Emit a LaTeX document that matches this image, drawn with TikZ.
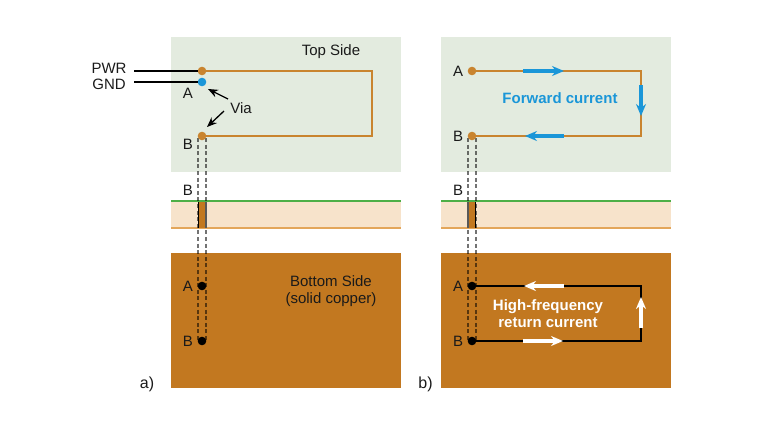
\documentclass[tikz,border=0pt]{standalone}
\usepackage{fontspec}
\setmainfont{Liberation Sans}
\usetikzlibrary{arrows.meta}
\definecolor{panelgreen}{HTML}{E3EBDF}
\definecolor{copper}{HTML}{C27820}
\definecolor{tracec}{HTML}{C9842F}
\definecolor{cream}{HTML}{F7E3CB}
\definecolor{linegreen}{HTML}{4DAF47}
\definecolor{lineorange}{HTML}{E3A65B}
\definecolor{curblue}{HTML}{1A96D8}
\definecolor{ink}{HTML}{1A1A1A}
\tikzset{
  x=1pt,y=-1pt,
  lab/.style={font=\fontsize{15}{17}\selectfont,text=ink,inner sep=0pt},
  biglab/.style={font=\fontsize{16}{18}\selectfont,text=ink,inner sep=0pt},
  pad/.style={circle,fill=#1,draw=none,minimum size=8.6pt,inner sep=0pt},
  trace/.style={draw=tracec,line width=1.8pt,line join=miter},
  blacktrace/.style={draw=black,line width=1.8pt,line join=miter},
  wire/.style={draw=black,line width=1.8pt},
  viaedge/.style={draw=black,draw opacity=.55,line width=2pt,dash pattern=on 4pt off 2.6pt},
  pointer/.style={draw=black,line width=1.3pt,-{Stealth[length=10pt,width=8pt]}},
  cur/.style={draw=#1,line width=3.2pt,-{Stealth[length=12pt,width=10pt]}},
}
\begin{document}
\begin{tikzpicture}
\useasboundingbox (0,0) rectangle (764,429);
% panels
\fill[panelgreen] (171,37) rectangle (401,172);
\fill[panelgreen] (441,37) rectangle (671,172);
\fill[cream] (171,201) rectangle (401,228);
\fill[cream] (441,201) rectangle (671,228);
\fill[copper] (171,253) rectangle (401,388);
\fill[copper] (441,253) rectangle (671,388);
\draw[linegreen,line width=1.6pt] (171,201) -- (401,201);
\draw[linegreen,line width=1.6pt] (441,201) -- (671,201);
\draw[lineorange,line width=2pt] (171,228) -- (401,228);
\draw[lineorange,line width=2pt] (441,228) -- (671,228);
% vias in the layer
\fill[copper] (198,202) rectangle (206,228);
\fill[copper] (468,202) rectangle (476,228);
% via edges
\coordinate (la1) at (198.3,138); \coordinate (la2) at (198.3,341);
\coordinate (lb1) at (205.7,138); \coordinate (lb2) at (205.7,341);
\coordinate (ra1) at (468.3,138); \coordinate (ra2) at (468.3,341);
\coordinate (rb1) at (475.7,138); \coordinate (rb2) at (475.7,341);
\draw[viaedge] (la1) -- (la2);
\draw[viaedge] (lb1) -- (lb2);
\draw[viaedge] (ra1) -- (ra2);
\draw[viaedge] (rb1) -- (rb2);
\draw[black,line width=1.5pt] (198.3,202) -- (198.3,228);
\draw[black!65,line width=2pt] (205.7,202) -- (205.7,228);
\draw[black!65,line width=2pt] (468.3,202) -- (468.3,228);
\draw[black,line width=1.5pt] (475.7,202) -- (475.7,228);
% left panel pads
\node[pad=tracec] (pwrpad) at (202,71) {};
\node[pad=curblue] (gndpad) at (202,82) {};
\node[pad=tracec] (bpad) at (202,136) {};
\node[pad=black] (botA) at (202,286) {};
\node[pad=black] (botB) at (202,341) {};
\coordinate (c1) at (372,71); \coordinate (c2) at (372,136);
\draw[trace] (pwrpad.center) -- (c1) -- (c2) -- (bpad.center);
\coordinate (pwrend) at (134,71); \coordinate (gndend) at (134,82);
\draw[wire] (pwrend) -- (pwrpad);
\draw[wire] (gndend) -- (gndpad);
\node[lab] (pwr) at (109,68) {PWR};
\node[lab] (gnd) at (109,84) {GND};
\node[lab] (la) at (188,93) {A};
\node[lab] (lb) at (188,144) {B};
\node[lab] (lb3) at (188,190) {B};
\node[lab] (via) at (241,108) {Via};
\coordinate (v1s) at (228,99); \coordinate (v1e) at (208,89);
\coordinate (v2s) at (224,111); \coordinate (v2e) at (207,127);
\draw[pointer] (v1s) -- (v1e);
\draw[pointer] (v2s) -- (v2e);
\node[lab] (top) at (331,52) {Top Side};
\node[lab,align=center] (bot) at (331,291.5) {Bottom Side\\(solid copper)};
\node[lab] (lA) at (188,286) {A};
\node[lab] (lB) at (188,341) {B};
\node[biglab] (pa) at (147,384) {a)};
% right panel
\node[pad=tracec] (rA) at (472,71) {};
\node[pad=tracec] (rB) at (472,136) {};
\coordinate (r1) at (641,71); \coordinate (r2) at (641,136);
\draw[trace] (rA.center) -- (r1) -- (r2) -- (rB.center);
\node[pad=black] (rbA) at (472,286) {};
\node[pad=black] (rbB) at (472,341) {};
\coordinate (r3) at (641,286); \coordinate (r4) at (641,341);
\draw[blacktrace] (rbA.center) -- (r3) -- (r4) -- (rbB.center);
\coordinate (f1s) at (523,71); \coordinate (f1e) at (564,71);
\coordinate (f2s) at (641,85); \coordinate (f2e) at (641,116);
\coordinate (f3s) at (564,136); \coordinate (f3e) at (525,136);
\draw[cur=curblue] (f1s) -- (f1e);
\draw[cur=curblue] (f2s) -- (f2e);
\draw[cur=curblue] (f3s) -- (f3e);
\coordinate (w1s) at (564,286); \coordinate (w1e) at (524,286);
\coordinate (w2s) at (641,328); \coordinate (w2e) at (641,297);
\coordinate (w3s) at (523,341); \coordinate (w3e) at (563,341);
\draw[cur=white] (w1s) -- (w1e);
\draw[cur=white] (w2s) -- (w2e);
\draw[cur=white] (w3s) -- (w3e);
\node[lab] (ra) at (458,71) {A};
\node[lab] (rb) at (458,136) {B};
\node[lab] (rb3) at (458,190) {B};
\node[lab] (rlA) at (458,286) {A};
\node[lab] (rlB) at (458,341) {B};
\node[lab,font=\fontsize{15}{17}\selectfont\bfseries,text=curblue] (fwd) at (560,98) {Forward current};
\node[lab,font=\fontsize{15}{17}\selectfont\bfseries,text=white,align=center] (ret) at (548,313.5) {High-frequency\\return current};
\node[biglab] (pb) at (425.5,384) {b)};
\end{tikzpicture}
\end{document}
